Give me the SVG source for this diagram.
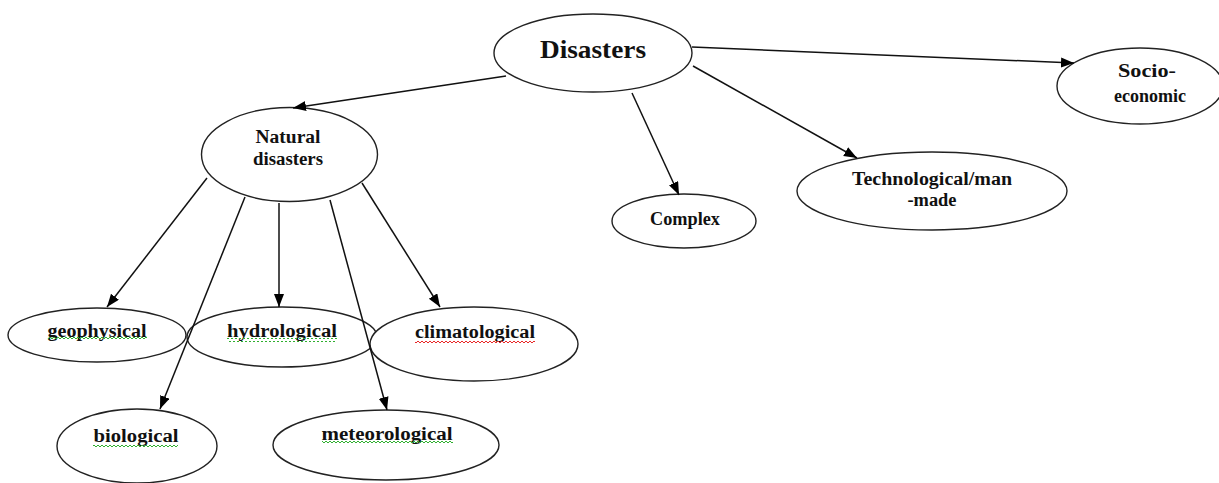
<svg xmlns="http://www.w3.org/2000/svg" width="1219" height="483" viewBox="0 0 1219 483">
<style>
.n{fill:#fff;stroke:#222;stroke-width:1.4}
.t{font-family:"Liberation Serif","Times New Roman",serif;font-weight:bold;fill:#111;text-anchor:middle;font-size:18px}
.big{font-size:26px}
.c{stroke:#111;stroke-width:1.5;fill:none;marker-end:url(#ah)}
</style>
<defs>
<marker id="ah" markerUnits="userSpaceOnUse" markerWidth="14" markerHeight="12" refX="13" refY="5" orient="auto">
<path d="M0,0 L13,5 L0,10 Z" fill="#000"/>
</marker>
<pattern id="wg" width="4" height="4" patternUnits="userSpaceOnUse">
<path d="M0 3 L2 1 L4 3" stroke="#2fb02f" fill="none" stroke-width="1"/>
</pattern>
<pattern id="wr" width="4" height="4" patternUnits="userSpaceOnUse">
<path d="M0 3 L2 1 L4 3" stroke="#e82828" fill="none" stroke-width="1"/>
</pattern>
</defs>
<rect width="1219" height="483" fill="#fff"/>

<g id="n-disasters"><ellipse class="n" cx="593" cy="53" rx="99" ry="39"/><text class="t big" x="593" y="58" textLength="106" lengthAdjust="spacingAndGlyphs">Disasters</text></g>
<g id="n-natural"><ellipse class="n" cx="289.5" cy="154.5" rx="88" ry="47"/><text class="t" x="288" y="143" textLength="65" lengthAdjust="spacingAndGlyphs">Natural</text><text class="t" x="288" y="165" textLength="70" lengthAdjust="spacingAndGlyphs">disasters</text></g>
<g id="n-socio"><ellipse class="n" cx="1140" cy="86" rx="83" ry="38"/><text class="t" x="1147" y="77" textLength="58" lengthAdjust="spacingAndGlyphs">Socio-</text><text class="t" x="1150" y="102" textLength="72" lengthAdjust="spacing">economic</text></g>
<g id="n-complex"><ellipse class="n" cx="684" cy="221" rx="72" ry="27"/><text class="t" x="685" y="225" textLength="70" lengthAdjust="spacingAndGlyphs">Complex</text></g>
<g id="n-tech"><ellipse class="n" cx="932" cy="191" rx="135" ry="39"/><text class="t" x="932" y="185" textLength="160" lengthAdjust="spacingAndGlyphs">Technological/man</text><text class="t" x="932" y="206" textLength="49" lengthAdjust="spacingAndGlyphs">-made</text></g>
<g id="n-geo"><ellipse class="n" cx="97" cy="335" rx="89" ry="27"/><text class="t" x="97" y="337" textLength="99" lengthAdjust="spacingAndGlyphs">geophysical</text><rect x="48" y="337" width="99" height="4" fill="url(#wg)"/></g>
<g id="n-hydro"><ellipse class="n" cx="282" cy="337" rx="95" ry="30"/><text class="t" x="282" y="337" textLength="110" lengthAdjust="spacingAndGlyphs">hydrological</text><rect x="227" y="338" width="110" height="4" fill="url(#wg)"/></g>
<g id="n-clim"><ellipse class="n" cx="474" cy="344" rx="104" ry="37"/><text class="t" x="475" y="338" textLength="120" lengthAdjust="spacingAndGlyphs">climatological</text><rect x="415" y="339" width="120" height="4" fill="url(#wr)"/></g>
<g id="n-bio"><ellipse class="n" cx="137" cy="446" rx="80" ry="37"/><text class="t" x="136" y="442" textLength="85" lengthAdjust="spacingAndGlyphs">biological</text><rect x="93" y="443" width="85" height="4" fill="url(#wg)"/></g>
<g id="n-meteo"><ellipse class="n" cx="386" cy="445" rx="113" ry="35"/><text class="t" x="387" y="440" textLength="131" lengthAdjust="spacingAndGlyphs">meteorological</text><rect x="322" y="441" width="131" height="4" fill="url(#wg)"/></g>

<g id="connectors">
<line class="c" x1="506" y1="76" x2="293" y2="108"/>
<line class="c" x1="692" y1="47" x2="1074" y2="63"/>
<line class="c" x1="632" y1="93" x2="679" y2="195"/>
<line class="c" x1="693" y1="66" x2="857" y2="158"/>
<line class="c" x1="207" y1="178" x2="107" y2="307"/>
<line class="c" x1="245" y1="197" x2="160" y2="409"/>
<line class="c" x1="279" y1="203" x2="279" y2="307"/>
<line class="c" x1="330" y1="200" x2="387" y2="410"/>
<line class="c" x1="362" y1="183" x2="440" y2="307"/>
</g>
</svg>
